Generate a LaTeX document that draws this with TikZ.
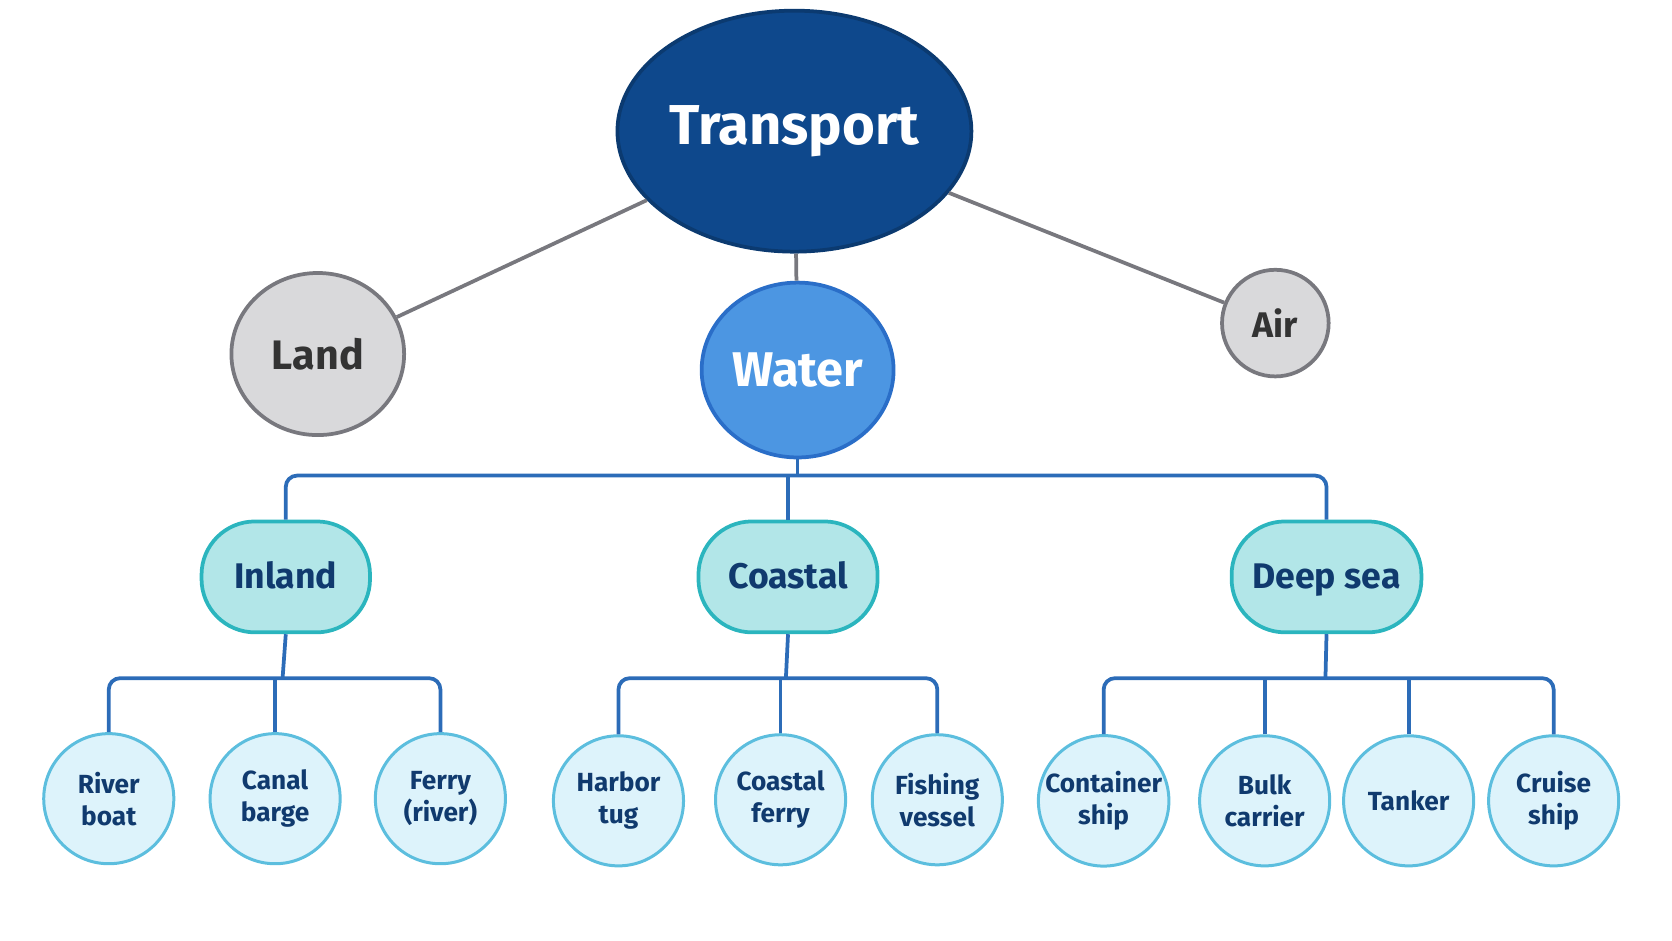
\documentclass[tikz,border=0pt]{standalone}
\usepackage{fontspec}
\setmainfont{Fira Sans}
\usetikzlibrary{shapes.geometric, positioning}
\definecolor{rootblue}{RGB}{14, 72, 140}
\definecolor{waterblue}{RGB}{76, 150, 226}
\definecolor{waterline}{RGB}{42, 110, 200}
\definecolor{landgray}{RGB}{217, 217, 219}
\definecolor{linegray}{RGB}{120, 120, 126}
\definecolor{zonefill}{RGB}{178, 230, 232}
\definecolor{zoneline}{RGB}{43, 181, 190}
\definecolor{leaffill}{RGB}{221, 243, 251}
\definecolor{leafline}{RGB}{92, 190, 222}
\definecolor{textblue}{RGB}{16, 58, 110}
\definecolor{busblue}{RGB}{44, 108, 184}

\begin{document}
\begin{tikzpicture}[
    root/.style={ellipse, inner sep=0pt, minimum width=2.7cm, minimum height=2.26cm, draw=rootblue!80!black, line width=1pt, fill=rootblue, text=white, font=\fontsize{15}{18}\selectfont\bfseries},
    mode/.style={ellipse, inner sep=0pt, draw=linegray, line width=1pt, fill=landgray, text=black!80, font=\fontsize{11}{13}\selectfont\bfseries},
    water/.style={ellipse, inner sep=0pt, minimum width=1.8cm, minimum height=1.64cm, draw=waterline, line width=1pt, fill=waterblue, text=white, font=\fontsize{13}{16}\selectfont\bfseries},
    zone/.style={rectangle, rounded corners=0.5cm, minimum height=1.04cm, text height=1.5ex, text depth=0.3ex, draw=zoneline, line width=1pt, fill=zonefill, text=textblue, font=\fontsize{9.5}{12}\selectfont\bfseries},
    vessel/.style={circle, minimum size=1.22cm, inner sep=0pt, align=center, draw=leafline, line width=0.8pt, fill=leaffill, text=textblue, font=\fontsize{7}{8.5}\selectfont\bfseries},
    link/.style={line width=1pt, draw=linegray},
    bus/.style={line width=1pt, draw=busblue, rounded corners=3pt}
]
\useasboundingbox (0,0) rectangle (15.68,8.82);

% Top levels
\node (transport) [root] at (7.45,7.59) {Transport};
\node (land) [mode, minimum width=1.62cm, minimum height=1.52cm] at (2.98,5.50) {Land};
\node (water) [water] at (7.48,5.35) {Water};
\node (air) [mode, minimum size=1cm, font=\fontsize{9.5}{12}\selectfont\bfseries] at (11.96,5.79) {Air};

% Water zones
\node (inland) [zone, minimum width=1.58cm] at (2.68,3.41) {Inland};
\node (coastal) [zone, minimum width=1.68cm] at (7.39,3.41) {Coastal};
\node (deepsea) [zone, minimum width=1.78cm] at (12.44,3.41) {Deep sea};

% Vessels
\node (riverboat) [vessel] at (1.02,1.33) {River\\boat};
\node (canalbarge) [vessel] at (2.58,1.33) {Canal\\barge};
\node (ferryriver) [vessel] at (4.13,1.33) {Ferry\\(river)};
\node (harbortug) [vessel] at (5.80,1.31) {Harbor\\tug};
\node (coastalferry) [vessel] at (7.32,1.32) {Coastal\\ferry};
\node (fishing) [vessel] at (8.79,1.32) {Fishing\\vessel};
\node (container) [vessel] at (10.35,1.31) {Container\\ship};
\node (bulk) [vessel] at (11.86,1.31) {Bulk\\carrier};
\node (tanker) [vessel] at (13.21,1.31) {Tanker};
\node (cruise) [vessel] at (14.57,1.31) {Cruise\\ship};

% Bus points
\coordinate (waterbus) at (7.48,4.36);
\coordinate (inlandbus) at (2.65,2.46);
\coordinate (coastalbus) at (7.37,2.46);
\coordinate (deepbus) at (12.43,2.46);

% Connectors
\draw [link] (transport) -- (land);
\draw [link] (transport) -- (air);
\draw [link] (transport) -- (water);

\draw [bus] (inland.north) |- (waterbus) -| (deepsea.north);
\draw [bus] (water.south) -- (waterbus);
\draw [bus] (coastal.north) -- (coastal.north |- waterbus);

\draw [bus] (inland.south) -- (inlandbus);
\draw [bus] (riverboat.north) |- (inlandbus) -| (ferryriver.north);
\draw [bus] (canalbarge.north) -- (canalbarge.north |- inlandbus);

\draw [bus] (coastal.south) -- (coastalbus);
\draw [bus] (harbortug.north) |- (coastalbus) -| (fishing.north);
\draw [bus] (coastalferry.north) -- (coastalferry.north |- coastalbus);

\draw [bus] (deepsea.south) -- (deepbus);
\draw [bus] (container.north) |- (deepbus) -| (cruise.north);
\foreach \ship in {bulk, tanker} {
    \draw [bus] (\ship.north) -- (\ship.north |- deepbus);
}

\end{tikzpicture}
\end{document}
